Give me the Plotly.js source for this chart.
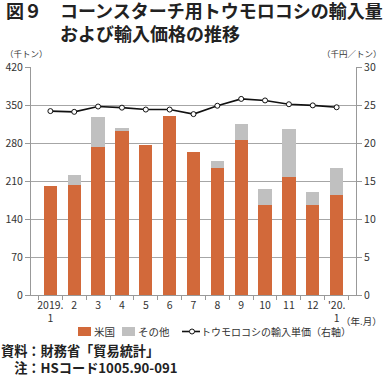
<!DOCTYPE html>
<html><head><meta charset="utf-8">
<script src="https://cdn.plot.ly/plotly-3.0.1.min.js"></script>
<style>body{margin:0;background:#fff}#c{width:384px;height:376px}</style>
</head><body><div id="c"></div>
<script>
const months = ["2019.<br>1","2","3","4","5","6","7","8","9","10","11","12","'20.<br>1"];
const usa    = [201,202,273,302,276,330,263,234,285,166,217,166,184];
const other  = [0,19,54,5,0,0,0,13,30,30,88,23,50];
const price  = [24.2,24.1,24.8,24.65,24.4,24.4,23.8,24.9,25.8,25.6,25.1,24.95,24.7];
const seriesNames = ['米国','その他','トウモロコシの輸入単価（右軸）'];

const F = "Noto Sans CJK JP, sans-serif";
const FT = "Liberation Sans, Noto Sans CJK JP, sans-serif";
const W = 325, L = 31, T = 67, H = 228;
function px(x){return (x-L)/W;}
function py(y){return (T+H-y)/H;}
const cOr = '#d2693a', cGr = '#c0c0c0';
const data = [
  {type:'bar', x:months, y:usa, name:seriesNames[0], marker:{color:cOr}, yaxis:'y'},
  {type:'bar', x:months, y:other, name:seriesNames[1], marker:{color:cGr}, yaxis:'y'},
  {type:'scatter', mode:'lines+markers', x:months, y:price, name:seriesNames[2], yaxis:'y2',
   line:{color:'#111', width:1.6}, marker:{symbol:'circle', size:5, color:'#fff', line:{color:'#111', width:1}}}
];
function ann(x,y,text,size,anchor,color,fam){
  return {xref:'paper', yref:'paper', x:px(x), y:py(y), xanchor:anchor||'left', yanchor:'middle', align:'left', text:text, showarrow:false,
    font:{size:size, color:color||'#333', family:fam||F}};
}
const layout = {
  width:384, height:376, margin:{l:L, r:384-L-W, t:T, b:376-T-H},
  paper_bgcolor:'#fff', plot_bgcolor:'#fff',
  barmode:'stack', bargap:0.44, showlegend:false,
  font:{family:F, size:11, color:'#333'},
  xaxis:{type:'category', showline:true, linecolor:'#999', ticks:'outside', tickson:'boundaries', ticklen:4, tickcolor:'#999',
    tickangle:0, tickfont:{size:10.5, color:'#333'}, showgrid:false, fixedrange:true},
  yaxis:{range:[0,420], tickvals:[0,70,140,210,280,350,420], showline:true, linecolor:'#999', ticks:'outside', ticklen:5, tickcolor:'#999',
    gridcolor:'#a6a6a6', gridwidth:1, zeroline:false, tickfont:{size:10.5}},
  yaxis2:{range:[0,30], tickvals:[0,5,10,15,20,25,30], overlaying:'y', side:'right', showline:true, linecolor:'#999', ticks:'outside', ticklen:5, tickcolor:'#999',
    showgrid:false, zeroline:false, tickfont:{size:10.5}},
  shapes:[
    {type:'rect', xref:'paper', yref:'paper', x0:px(78), x1:px(91), y0:py(336), y1:py(327), fillcolor:cOr, line:{width:0}},
    {type:'rect', xref:'paper', yref:'paper', x0:px(122), x1:px(135), y0:py(336), y1:py(327), fillcolor:cGr, line:{width:0}},
    {type:'line', xref:'paper', yref:'paper', x0:px(182), x1:px(200), y0:py(331.5), y1:py(331.5), line:{color:'#111', width:1.6}},
    {type:'circle', xref:'paper', yref:'paper', x0:px(189.5), x1:px(194.5), y0:py(334), y1:py(329), fillcolor:'#fff', line:{color:'#111', width:1}}
  ],
  annotations:[
    ann(4,23,'<b>図９　コーンスターチ用トウモロコシの輸入量<br>　　　および輸入価格の推移</b>',18,'left','#222',FT),
    ann(3,53,'（千トン）',8.5),
    ann(384,53,'（千円／トン）',8.5,'right'),
    ann(384,321,'（年.月）',9.5,'right'),
    ann(92,331.5,seriesNames[0],10.5),
    ann(136,331.5,seriesNames[1],10.5),
    ann(199,331.5,seriesNames[2],10),
    ann(-1,358.5,'<b>資料：財務省「貿易統計」<br>　注：HSコード1005.90-091</b>',13.2,'left','#222')
  ]
};
Plotly.newPlot('c', data, layout, {displayModeBar:false, staticPlot:true});
</script></body></html>
